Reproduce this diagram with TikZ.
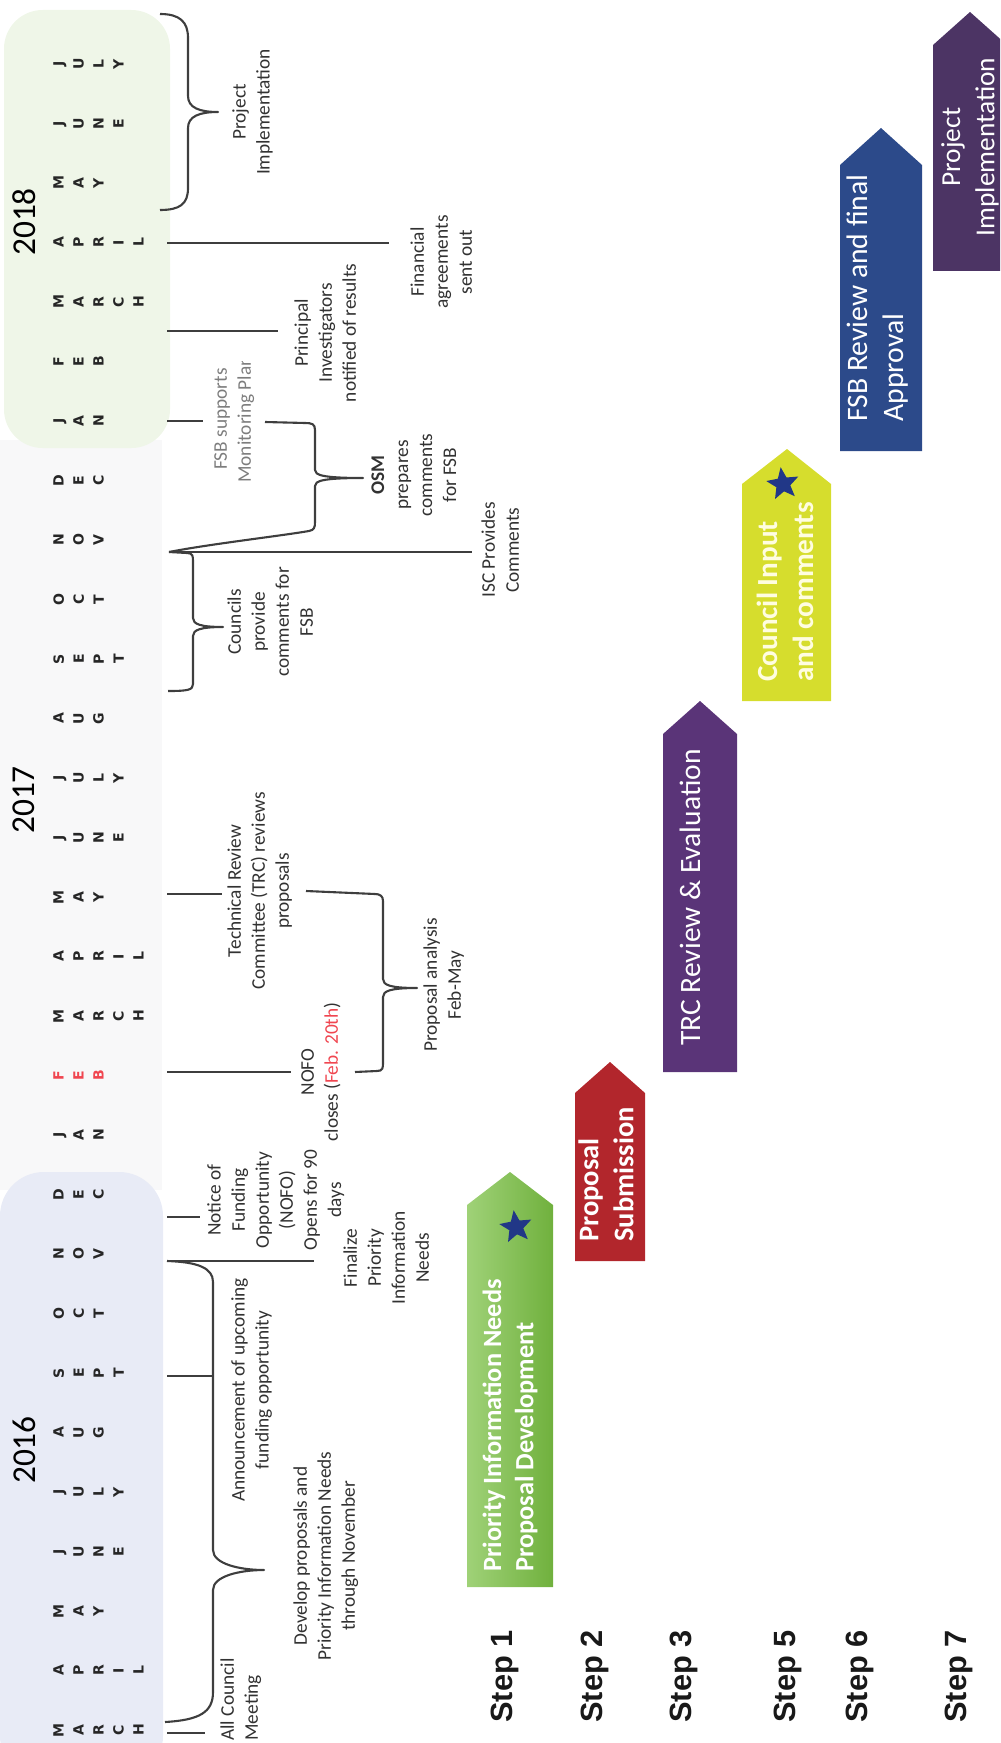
\documentclass[tikz,border=0pt]{standalone}
\usepackage{fontspec}
\setmainfont{Carlito}
\newfontfamily\stepfont{Liberation Sans}
\newfontfamily\monthfont{DejaVu Sans}
\usetikzlibrary{shapes.geometric}

\definecolor{inkgray}{RGB}{62,62,62}
\definecolor{txtgray}{RGB}{50,50,50}
\definecolor{fsbgray}{RGB}{125,125,125}
\definecolor{febred}{RGB}{240,70,80}
\definecolor{bgsixteen}{RGB}{232,235,246}
\definecolor{bgseventeen}{RGB}{248,248,249}
\definecolor{bgeighteen}{RGB}{239,246,232}
\definecolor{stepgreen}{RGB}{122,192,67}
\definecolor{stepred}{RGB}{178,38,44}
\definecolor{steppurple}{RGB}{90,52,120}
\definecolor{stepyellow}{RGB}{214,221,45}
\definecolor{stepblue}{RGB}{44,74,138}
\definecolor{stepplum}{RGB}{76,52,100}
\definecolor{starblue}{RGB}{33,55,135}

\tikzset{
  lbl/.style={rotate=90, align=center, inner sep=0pt, text=txtgray,
    font=\fontsize{11}{13.7}\selectfont},
  tick/.style={draw=inkgray, line width=1.4pt},
  brace/.style={draw=inkgray, line width=1.2pt, line join=round},
  month/.style={rotate=90, anchor=north, align=center, inner sep=0pt, text=black!85,
    font=\monthfont\bfseries\fontsize{8}{11.4}\selectfont},
  year/.style={rotate=90, inner sep=0pt, font=\fontsize{19}{20}\selectfont},
  steplbl/.style={rotate=90, anchor=west, inner sep=0pt, text=black!90,
    font=\stepfont\bfseries\fontsize{17.5}{20}\selectfont},
  boxtxt/.style={rotate=90, inner sep=0pt, text=white, align=left, anchor=west},
  starmark/.style={star, star points=5, star point ratio=2.3, fill=starblue,
    inner sep=0pt, minimum size=0.68cm, rotate=80}
}

\begin{document}
\begin{tikzpicture}[x=0.02cm, y=-0.02cm]
\useasboundingbox (0,0) rectangle (1000,1743);
\clip (0,0) rectangle (1000,1743);

% year bands
\fill[bgseventeen] (0,440) rectangle (162,1190);
\fill[bgeighteen, rounded corners=22] (4,10) rectangle (170,448);
\fill[bgsixteen, rounded corners=25] (0,1172) rectangle (163,1780);

% months
\foreach \m [count=\i from 0] in {{M\\A\\R\\C\\H},{A\\P\\R\\I\\L},{M\\A\\Y},{J\\U\\N\\E},
    {J\\U\\L\\Y},{A\\U\\G},{S\\E\\P\\T},{O\\C\\T},{N\\O\\V},{D\\E\\C},
    {J\\A\\N},{\textcolor{febred}{F}\\\textcolor{febred}{E}\\\textcolor{febred}{B}},
    {M\\A\\R\\C\\H},{A\\P\\R\\I\\L},{M\\A\\Y},{J\\U\\N\\E},{J\\U\\L\\Y},{A\\U\\G},
    {S\\E\\P\\T},{O\\C\\T},{N\\O\\V},{D\\E\\C},
    {J\\A\\N},{F\\E\\B},{M\\A\\R\\C\\H},{A\\P\\R\\I\\L},{M\\A\\Y},{J\\U\\N\\E},{J\\U\\L\\Y}}
  \node[month] (mon\i) at (53,{1730-59.5*\i}) {\m};

\node[year] (y16) at (24,1450) {2016};
\node[year] (y17) at (24,800) {2017};
\node[year] (y18) at (24,222) {2018};

% tick points on the timeline
\coordinate (t-meet) at (167,1733);
\coordinate (t-ann) at (167,1376);
\coordinate (t-fin) at (167,1261);
\coordinate (t-nofo) at (167,1217);
\coordinate (t-close) at (167,1072);
\coordinate (t-trc) at (167,894);
\coordinate (t-isc) at (169,552);
\coordinate (t-mon) at (167,421);
\coordinate (t-pi) at (167,331);
\coordinate (t-fa) at (167,243);
\coordinate (spine16) at (213,1570);

% labels
\node[lbl, align=left, anchor=north west] (meet) at (220,1741) {All Council\\Meeting};
\node[lbl, anchor=north] (dev) at (293,1556)
  {Develop proposals and\\Priority Information Needs\\through November};
\node[lbl, anchor=north] (ann) at (231,1390) {Announcement of upcoming\\funding opportunity};
\node[lbl, anchor=north] (fin) at (343,1258) {Finalize\\Priority\\Information\\Needs};
\node[lbl, anchor=north] (nofo) at (207,1200)
  {Notice of\\Funding\\Opportunity\\(NOFO)\\Opens for 90\\days};
\node[lbl, anchor=north] (close) at (301,1072) {NOFO\\closes (\textcolor{febred}{Feb. 20th})};
\node[lbl, anchor=north] (pa) at (423,985) {Proposal analysis\\Feb-May};
\node[lbl, anchor=north] (trc) at (227,891)
  {Technical Review\\Committee (TRC) reviews\\proposals};
\node[lbl, anchor=north] (cpc) at (227,622) {Councils\\provide\\comments for\\FSB};
\node[lbl, anchor=north] (isc) at (481,550) {ISC Provides\\Comments};
\node[lbl, anchor=north] (osm) at (371,475) {\textbf{OSM}\\prepares\\comments\\for FSB};
\node[lbl, anchor=north] (pi) at (294,333) {Principal\\Investigators\\notified of results};
\node[lbl, anchor=north] (fa) at (410,262) {Financial\\agreements\\sent out};
\node[lbl, anchor=north] (impl) at (232,112) {Project\\Implementation};
\begin{scope}
  \clip (150,362) rectangle (300,520);
  \node[lbl, text=fsbgray, align=right, anchor=north east] (mon) at (214,356)
    {FSB supports\kern0.24cm\\Monitoring Plan};
\end{scope}

% ticks
\draw[tick, shorten >=0.3cm] (t-meet) -- (t-meet -| meet.north);
\draw[tick] (t-ann) -- (t-ann -| spine16);
\draw[tick, shorten >=0.58cm] (t-fin) -- (t-fin -| fin.north);
\draw[tick, shorten >=0.14cm] (t-nofo) -- (t-nofo -| nofo.north);
\draw[tick, shorten >=0.2cm] (t-close) -- (t-close -| close.north);
\draw[tick, shorten >=0.1cm] (t-trc) -- (t-trc -| trc.north);
\draw[tick, shorten >=0.18cm] (t-isc) -- (t-isc -| isc.north);
\draw[tick, shorten >=0.22cm] (t-mon) -- (t-mon -| mon.north);
\draw[tick, shorten >=0.32cm] (t-pi) -- (t-pi -| pi.north);
\draw[tick, shorten >=0.42cm] (t-fa) -- (t-fa -| fa.north);

% braces
\draw[brace] (165,1722) .. controls (200,1720) and (213,1712) .. (213,1692)
  -- (213,1590) .. controls (213,1576) and (240,1570) .. (264,1570)
  .. controls (240,1570) and (213,1564) .. (213,1550)
  -- (213,1282) .. controls (213,1268) and (198,1262) .. (t-fin);
\draw[brace] (355,1072) -- (377,1071) .. controls (383,1071) and (383,1068) .. (383,1062)
  -- (383,997) .. controls (383,991) and (390,988) .. (417,988)
  .. controls (390,988) and (383,985) .. (383,979)
  -- (383,901) .. controls (383,896) and (380,894) .. (375,894) -- (306,891);
\draw[brace] (t-isc) -- (187,553) .. controls (193,553) and (193,556) .. (193,562)
  -- (193,618) .. controls (193,624) and (200,627) .. (223,627)
  .. controls (200,627) and (193,630) .. (193,636)
  -- (193,684) .. controls (193,690) and (188,691) .. (168,691);
\draw[brace] (t-isc) .. controls (210,544) and (280,536) .. (309,531)
  .. controls (314,530) and (315,528) .. (315,522)
  -- (315,486) .. controls (315,481) and (322,478) .. (363,478)
  .. controls (322,478) and (315,475) .. (315,470)
  -- (315,430) .. controls (315,424) and (312,423) .. (305,423) -- (265,422);
\draw[brace] (160,14) .. controls (180,14) and (188,22) .. (188,38)
  -- (188,96) .. controls (188,108) and (200,112) .. (218,112)
  .. controls (200,112) and (188,116) .. (188,128)
  -- (188,188) .. controls (188,204) and (180,210) .. (160,210);

% step arrows
\path[left color=stepgreen!72!white, middle color=stepgreen, right color=stepgreen!92!black]
  (467,1587) -- (467,1205) -- (510,1172) -- (553,1205) -- (553,1587) -- cycle;
\fill[stepred] (575,1261) -- (575,1093) -- (610,1062) -- (645,1093) -- (645,1261) -- cycle;
\fill[steppurple] (663,1072) -- (663,734) -- (700,701) -- (737,734) -- (737,1072) -- cycle;
\fill[stepyellow] (742,701) -- (742,484) -- (787,449) -- (831,484) -- (831,701) -- cycle;
\fill[stepblue] (840,451) -- (840,165) -- (881,128) -- (922,165) -- (922,451) -- cycle;
\fill[stepplum] (933,271) -- (933,45) -- (970,12) -- (1007,45) -- (1007,271) -- cycle;

\node[starmark] (star1) at (516,1227) {};
\node[starmark] (star5) at (783,484) {};

\node[boxtxt, font=\bfseries\fontsize{15}{18.3}\selectfont] (b1) at (510,1572)
  {Priority Information Needs\\Proposal Development};
\node[boxtxt, font=\bfseries\fontsize{16.2}{20}\selectfont] (b2) at (606,1242)
  {Proposal\\Submission};
\node[boxtxt, font=\fontsize{16.8}{20}\selectfont] (b3) at (690,1046)
  {TRC Review \& Evaluation};
\node[boxtxt, text=white!88!yellow, font=\bfseries\fontsize{16.6}{20.5}\selectfont] (b5)
  at (785,682) {Council Input\\and comments};
\node[boxtxt, font=\fontsize{16.9}{20.5}\selectfont] (b6) at (878,422)
  {FSB Review and final\\Approval};
\node[boxtxt, align=center, anchor=center, font=\fontsize{15.6}{19.5}\selectfont] (b7)
  at (970,147) {Project\\Implementation};

\node[steplbl] (s1) at (505,1723) {Step 1};
\node[steplbl] (s2) at (595,1723) {Step 2};
\node[steplbl] (s3) at (684,1723) {Step 3};
\node[steplbl] (s5) at (788,1723) {Step 5};
\node[steplbl] (s6) at (860,1723) {Step 6};
\node[steplbl] (s7) at (959,1723) {Step 7};
\end{tikzpicture}
\end{document}
